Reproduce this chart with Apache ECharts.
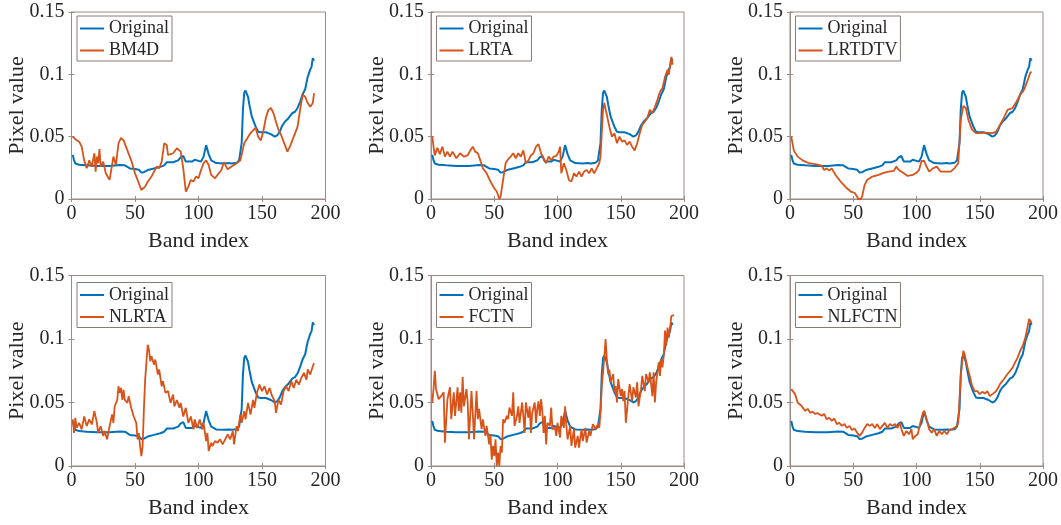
<!DOCTYPE html>
<html>
<head>
<meta charset="utf-8">
<script src="https://cdn.jsdelivr.net/npm/echarts@6/dist/echarts.min.js"></script>
<style>html,body{margin:0;padding:0;background:#fff;}#c{width:1061px;height:525px;}</style>
</head>
<body>
<div id="c"></div>
<script>
// ---- data (band index, pixel value) ----
const original = [[1,0.0354],[2,0.031],[3,0.0285],[6,0.0275],[12,0.027],[20,0.0265],[30,0.0265],[38,0.0272],[42,0.027],[46,0.0245],[50,0.024],[53,0.0235],[55,0.0212],[57,0.0215],[60,0.0232],[65,0.0245],[70,0.0258],[73,0.027],[75,0.0295],[76,0.028],[80,0.0295],[84,0.031],[86,0.0335],[87,0.035],[88,0.0345],[90,0.030],[95,0.030],[97,0.0315],[98,0.030],[102,0.030],[104,0.034],[106,0.0432],[108,0.036],[110,0.031],[114,0.0288],[120,0.0285],[124,0.0288],[126,0.0285],[130,0.029],[132,0.031],[133,0.031],[134,0.045],[135,0.072],[136,0.085],[137,0.087],[138,0.086],[139,0.082],[140,0.076],[142,0.066],[143,0.065],[145,0.058],[147,0.054],[149,0.0535],[153,0.0535],[157,0.052],[160,0.050],[162,0.051],[164,0.054],[166,0.059],[168,0.062],[171,0.065],[174,0.069],[176,0.070],[178,0.073],[180,0.078],[182,0.084],[184,0.088],[186,0.098],[188,0.104],[189,0.106],[190,0.113],[191,0.111]];

const bm4d = [[1,0.050],[3,0.048],[6,0.046],[8,0.042],[10,0.031],[12,0.0246],[14,0.031],[16,0.026],[18,0.0367],[19,0.022],[20,0.034],[21,0.0287],[22,0.040],[23,0.026],[25,0.030],[27,0.0206],[30,0.0153],[31,0.0166],[33,0.034],[35,0.0273],[37,0.0447],[39,0.049],[41,0.047],[44,0.039],[47,0.031],[50,0.0206],[53,0.0126],[55,0.0072],[58,0.0099],[60,0.0139],[63,0.018],[65,0.022],[67,0.026],[69,0.0246],[71,0.030],[73,0.0447],[75,0.0434],[76,0.0354],[78,0.036],[80,0.0367],[83,0.0407],[86,0.038],[88,0.0246],[89,0.0153],[90,0.0059],[92,0.0099],[94,0.0153],[96,0.014],[98,0.018],[100,0.0166],[102,0.0233],[104,0.0287],[106,0.031],[108,0.0273],[110,0.0193],[113,0.0166],[116,0.0206],[118,0.0233],[120,0.0295],[123,0.0238],[126,0.026],[130,0.0287],[133,0.031],[136,0.0447],[140,0.0514],[142,0.054],[145,0.057],[147,0.050],[149,0.047],[151,0.054],[153,0.065],[155,0.0715],[157,0.073],[159,0.069],[161,0.062],[163,0.0555],[165,0.0514],[167,0.046],[170,0.038],[172,0.042],[175,0.050],[178,0.058],[180,0.0715],[182,0.0836],[184,0.082],[186,0.077],[188,0.074],[190,0.077],[191,0.085]];

const lrta = [[1,0.050],[2,0.042],[3,0.035],[5,0.041],[7,0.036],[9,0.042],[11,0.034],[13,0.038],[15,0.034],[17,0.038],[20,0.0327],[23,0.0367],[26,0.034],[29,0.035],[31,0.039],[33,0.042],[35,0.038],[37,0.0367],[39,0.031],[41,0.0246],[44,0.0206],[47,0.014],[50,0.0086],[52,0.006],[54,0.000],[55,0.002],[57,0.0153],[59,0.0287],[61,0.032],[63,0.034],[65,0.0367],[67,0.0327],[69,0.0367],[71,0.034],[73,0.039],[75,0.0287],[77,0.031],[79,0.035],[81,0.0367],[83,0.042],[85,0.044],[87,0.0367],[89,0.0327],[91,0.0287],[93,0.034],[95,0.031],[97,0.034],[99,0.0345],[101,0.038],[102,0.042],[103,0.0206],[105,0.0287],[107,0.0233],[109,0.0153],[111,0.014],[113,0.0206],[115,0.018],[117,0.022],[119,0.018],[121,0.022],[123,0.0233],[125,0.0206],[127,0.0246],[129,0.0206],[131,0.0246],[133,0.0287],[134,0.034],[136,0.0715],[137,0.077],[139,0.0675],[141,0.058],[143,0.050],[145,0.0528],[147,0.0447],[149,0.050],[151,0.046],[153,0.047],[155,0.0434],[157,0.046],[159,0.042],[161,0.039],[163,0.0447],[165,0.0528],[167,0.0595],[169,0.062],[171,0.065],[173,0.0715],[175,0.069],[177,0.074],[179,0.0795],[181,0.086],[183,0.089],[185,0.098],[187,0.1037],[188,0.0997],[190,0.114],[191,0.1077]];

const lrtdtv = [[1,0.050],[3,0.039],[6,0.034],[10,0.031],[15,0.0287],[20,0.028],[25,0.0268],[27,0.0233],[29,0.0246],[31,0.0228],[33,0.0246],[36,0.0193],[40,0.014],[45,0.0086],[48,0.006],[51,0.005],[53,0.002],[54,0.0],[56,0.0],[57,0.002],[59,0.0113],[61,0.0153],[65,0.018],[70,0.0193],[74,0.021],[78,0.022],[82,0.0225],[84,0.026],[86,0.0233],[90,0.0206],[93,0.0185],[97,0.0193],[100,0.021],[102,0.0233],[104,0.0305],[106,0.0305],[108,0.026],[110,0.022],[113,0.0246],[116,0.026],[119,0.022],[123,0.022],[127,0.022],[130,0.0246],[133,0.0287],[135,0.0635],[137,0.0747],[139,0.073],[141,0.0635],[144,0.0555],[147,0.0528],[150,0.0528],[155,0.0533],[160,0.0528],[163,0.054],[166,0.0595],[169,0.065],[172,0.0715],[176,0.073],[179,0.078],[182,0.0836],[185,0.0876],[188,0.0956],[190,0.1015],[191,0.102]];

const nlrta = [[1,0.0367],[2,0.026],[3,0.038],[4,0.030],[6,0.034],[8,0.0288],[10,0.039],[12,0.0314],[14,0.0367],[16,0.0327],[18,0.0432],[20,0.034],[21,0.026],[23,0.0314],[25,0.0236],[26,0.0275],[28,0.021],[30,0.0314],[32,0.0406],[33,0.034],[34,0.047],[36,0.052],[37,0.0628],[38,0.0576],[39,0.0615],[40,0.052],[41,0.060],[42,0.052],[44,0.0497],[45,0.055],[47,0.0458],[49,0.039],[51,0.034],[52,0.021],[53,0.026],[54,0.0157],[55,0.0078],[56,0.0157],[57,0.0445],[58,0.068],[60,0.0955],[61,0.0916],[62,0.0825],[63,0.0864],[65,0.0798],[66,0.0838],[68,0.072],[69,0.076],[71,0.0628],[72,0.0668],[74,0.0576],[76,0.059],[78,0.0497],[80,0.0563],[81,0.047],[83,0.052],[85,0.0458],[86,0.0497],[88,0.039],[90,0.0458],[92,0.034],[94,0.039],[96,0.0288],[97,0.0367],[99,0.030],[101,0.0367],[103,0.0288],[104,0.034],[106,0.0196],[107,0.026],[108,0.0118],[110,0.0183],[111,0.0157],[113,0.0196],[115,0.0183],[117,0.021],[119,0.017],[121,0.021],[123,0.0249],[125,0.021],[127,0.0275],[128,0.017],[130,0.0314],[131,0.0275],[133,0.0406],[134,0.034],[136,0.0432],[137,0.0367],[139,0.0497],[141,0.0406],[143,0.052],[144,0.0458],[146,0.0576],[148,0.0641],[150,0.059],[152,0.0628],[154,0.0563],[156,0.0615],[158,0.055],[160,0.051],[161,0.0419],[163,0.052],[165,0.0484],[167,0.059],[169,0.0628],[171,0.059],[173,0.0668],[175,0.0615],[177,0.068],[179,0.0641],[181,0.0694],[183,0.0733],[185,0.068],[186,0.076],[188,0.072],[190,0.0785],[191,0.081]];

const fctn = [[1,0.050],[2,0.0605],[3,0.075],[4,0.0605],[6,0.0526],[8,0.055],[10,0.058],[11,0.0184],[13,0.0526],[15,0.062],[16,0.0368],[18,0.058],[19,0.0395],[21,0.062],[22,0.0434],[23,0.058],[24,0.042],[25,0.070],[26,0.047],[28,0.0605],[29,0.050],[30,0.021],[32,0.059],[33,0.042],[34,0.021],[36,0.059],[37,0.0368],[38,0.045],[40,0.029],[41,0.0368],[43,0.0237],[44,0.0316],[46,0.017],[47,0.025],[48,0.005],[49,0.0158],[50,0.008],[51,0.021],[52,0.0],[53,0.0105],[54,0.0],[55,0.0158],[56,0.0105],[57,0.0368],[58,0.034],[60,0.0395],[61,0.0368],[62,0.046],[64,0.0395],[65,0.058],[66,0.0316],[68,0.0395],[69,0.047],[70,0.034],[72,0.050],[73,0.0395],[74,0.026],[75,0.050],[77,0.038],[78,0.047],[79,0.026],[80,0.042],[82,0.050],[83,0.034],[84,0.045],[85,0.051],[86,0.0395],[87,0.0526],[88,0.0434],[89,0.026],[90,0.0395],[91,0.017],[92,0.034],[94,0.0316],[95,0.046],[96,0.029],[98,0.030],[99,0.0237],[100,0.034],[102,0.0224],[103,0.0395],[105,0.030],[106,0.047],[107,0.0316],[108,0.021],[110,0.0316],[111,0.0158],[113,0.029],[114,0.0145],[116,0.0237],[117,0.0145],[119,0.029],[120,0.0197],[122,0.030],[123,0.0184],[125,0.0276],[126,0.0237],[128,0.033],[130,0.029],[132,0.033],[133,0.030],[134,0.042],[135,0.063],[136,0.0737],[137,0.0855],[138,0.100],[139,0.0842],[140,0.0724],[141,0.076],[142,0.066],[144,0.0724],[145,0.058],[146,0.063],[147,0.050],[148,0.0684],[150,0.055],[151,0.0605],[152,0.051],[153,0.059],[154,0.034],[156,0.055],[157,0.0645],[159,0.051],[160,0.062],[162,0.054],[163,0.066],[164,0.047],[166,0.0605],[167,0.071],[169,0.059],[170,0.0724],[172,0.066],[173,0.0737],[175,0.055],[176,0.0737],[177,0.050],[178,0.066],[180,0.0816],[181,0.071],[182,0.0842],[183,0.0776],[184,0.0868],[185,0.1066],[186,0.0947],[187,0.109],[188,0.101],[189,0.109],[190,0.118],[191,0.119],[192,0.119]];

const nlfctn = [[1,0.0605],[2,0.059],[4,0.0566],[6,0.050],[9,0.0474],[12,0.0434],[14,0.045],[16,0.042],[18,0.0426],[20,0.041],[22,0.0416],[25,0.0395],[27,0.041],[29,0.0368],[31,0.038],[33,0.0355],[35,0.0374],[37,0.033],[39,0.034],[41,0.0316],[43,0.033],[45,0.030],[47,0.0316],[49,0.0284],[51,0.0295],[53,0.0263],[55,0.0237],[57,0.0263],[59,0.030],[61,0.033],[63,0.0316],[65,0.033],[67,0.030],[69,0.033],[71,0.029],[73,0.0316],[75,0.034],[77,0.030],[79,0.033],[81,0.0316],[83,0.033],[85,0.030],[87,0.034],[88,0.029],[90,0.0237],[92,0.0276],[94,0.025],[96,0.029],[97,0.021],[99,0.0237],[101,0.025],[103,0.034],[105,0.0416],[106,0.0434],[108,0.0368],[110,0.029],[112,0.0263],[114,0.029],[116,0.0237],[118,0.0276],[120,0.025],[122,0.0276],[124,0.025],[126,0.0284],[128,0.029],[130,0.030],[132,0.0316],[133,0.034],[135,0.071],[137,0.0908],[138,0.088],[140,0.079],[142,0.071],[144,0.063],[146,0.059],[148,0.059],[150,0.0566],[152,0.0584],[154,0.057],[156,0.059],[158,0.055],[160,0.0566],[162,0.058],[164,0.0605],[166,0.0645],[168,0.067],[170,0.0697],[172,0.0724],[174,0.075],[176,0.0776],[178,0.0816],[180,0.0855],[182,0.0908],[184,0.0947],[186,0.101],[188,0.1105],[189,0.1158],[190,0.1145],[191,0.1126]];

const methodNames = ['BM4D', 'LRTA', 'LRTDTV', 'NLRTA', 'FCTN', 'NLFCTN'];
const methodData = [bm4d, lrta, lrtdtv, nlrta, fctn, nlfctn];
const xRange = [0, 200, 50];
const yRange = [0, 0.15, 0.05];
const xName = 'Band index';
const yName = 'Pixel value';

// ---- layout ----
const FONT = '"Liberation Serif", "DejaVu Serif", serif';
const AX = '#9c8a86';
const TXT = '#262626';
const BLUE = '#0072BD';
const ORANGE = '#D95319';
const colLeft = [71.5, 431, 790];
const colWidth = [254, 253, 253.5];
const rowTop = [12, 275.5];
const rowHeight = [187, 190.5];
const legendOffset = [4, 7];

const grids = [], xAxes = [], yAxes = [], series = [], legends = [];
methodNames.forEach((name, i) => {
  const r = Math.floor(i / 3), c = i % 3;
  grids.push({left: colLeft[c], top: rowTop[r], width: colWidth[c], height: rowHeight[r],
    show: true, borderColor: AX, borderWidth: 1, backgroundColor: 'transparent', containLabel: false});
  const tick = {show: true, inside: true, length: 3, lineStyle: {color: AX, width: 1}};
  xAxes.push({gridIndex: i, type: 'value', min: xRange[0], max: xRange[1], interval: xRange[2],
    name: xName, nameLocation: 'middle', nameGap: 31, nameMoveOverlap: false,
    nameTextStyle: {fontFamily: FONT, fontSize: 22, color: TXT},
    axisLine: {show: true, lineStyle: {color: AX}}, axisTick: tick,
    axisLabel: {fontFamily: FONT, fontSize: 20, color: TXT, margin: 5},
    splitLine: {show: false}});
  xAxes.push({gridIndex: i, type: 'value', position: 'top', min: xRange[0], max: xRange[1], interval: xRange[2],
    axisLine: {show: true, lineStyle: {color: AX}}, axisTick: tick, axisLabel: {show: false}, splitLine: {show: false}});
  yAxes.push({gridIndex: i, type: 'value', min: yRange[0], max: yRange[1], interval: yRange[2],
    name: yName, nameLocation: 'middle', nameGap: 43, nameRotate: 90, nameMoveOverlap: false,
    nameTextStyle: {fontFamily: FONT, fontSize: 22, color: TXT},
    axisLine: {show: true, lineStyle: {color: AX}}, axisTick: tick,
    axisLabel: {fontFamily: FONT, fontSize: 20, color: TXT, margin: 7},
    splitLine: {show: false}});
  yAxes.push({gridIndex: i, type: 'value', position: 'right', min: yRange[0], max: yRange[1], interval: yRange[2],
    axisLine: {show: true, lineStyle: {color: AX}}, axisTick: tick, axisLabel: {show: false}, splitLine: {show: false}});
  series.push({name: 'Original', type: 'line', xAxisIndex: 2 * i, yAxisIndex: 2 * i, data: original,
    showSymbol: false, symbol: 'none', lineStyle: {color: BLUE, width: 2}, itemStyle: {color: BLUE}, z: 3, animation: false});
  series.push({name: name, type: 'line', xAxisIndex: 2 * i, yAxisIndex: 2 * i, data: methodData[i],
    showSymbol: false, symbol: 'none', lineStyle: {color: ORANGE, width: 1.8}, itemStyle: {color: ORANGE}, z: 4, animation: false});
  legends.push({data: ['Original', name], orient: 'vertical',
    left: colLeft[c] + 5.5, top: rowTop[r] + legendOffset[r],
    backgroundColor: '#fff', borderColor: '#8a7a76', borderWidth: 1, borderRadius: 0,
    padding: [3, 3, 1, 3], itemGap: 3, itemWidth: 24, itemHeight: 2, icon: 'rect',
    textStyle: {fontFamily: FONT, fontSize: 18, color: TXT, lineHeight: 19},
    selectedMode: false});
});

const chart = echarts.init(document.getElementById('c'), null, {renderer: 'canvas'});
chart.setOption({animation: false, backgroundColor: '#fff', grid: grids, xAxis: xAxes, yAxis: yAxes, series: series, legend: legends});
</script>
</body>
</html>
